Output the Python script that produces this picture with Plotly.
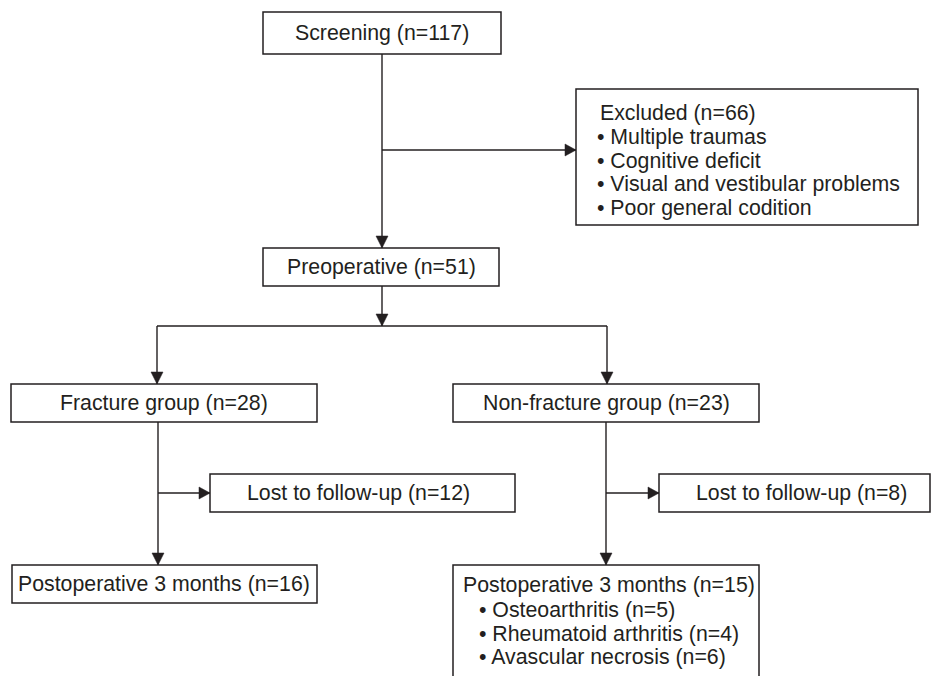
import plotly.graph_objects as go

# ---- data (flowchart content) ----
screening_n = 117
excluded_n = 66
exclusion_reasons = ["Multiple traumas", "Cognitive deficit",
                     "Visual and vestibular problems", "Poor general codition"]
preop_n = 51
group_names = ["Fracture group", "Non-fracture group"]
group_n = [28, 23]
lost_n = [12, 8]
postop_n = [16, 15]
nonfracture_diagnoses = ["Osteoarthritis", "Rheumatoid arthritis", "Avascular necrosis"]
nonfracture_diag_n = [5, 4, 6]

# ---- layout (pixel coordinates) ----
W, H = 942, 676
INK = "#231f20"
FONT = dict(family="Liberation Sans, Arial, Helvetica, sans-serif", size=21.3, color=INK)

fig = go.Figure()
shapes = []
annotations = []

def box(x0, y0, x1, y1):
    shapes.append(dict(type="rect", xref="x", yref="y", x0=x0, y0=y0, x1=x1, y1=y1,
                       line=dict(color=INK, width=1.5), fillcolor="white", layer="above"))

def line(x0, y0, x1, y1):
    shapes.append(dict(type="line", xref="x", yref="y", x0=x0, y0=y0, x1=x1, y1=y1,
                       line=dict(color=INK, width=1.4)))

def head_down(x, y):
    shapes.append(dict(type="path", xref="x", yref="y",
                       path=f"M {x-6},{y-12} L {x+6},{y-12} L {x},{y} Z",
                       fillcolor=INK, line=dict(color=INK, width=0.5)))

def head_right(x, y):
    shapes.append(dict(type="path", xref="x", yref="y",
                       path=f"M {x-11},{y-6} L {x-11},{y+6} L {x},{y} Z",
                       fillcolor=INK, line=dict(color=INK, width=0.5)))

def text(x, y, s, anchor="center"):
    annotations.append(dict(x=x, y=y, xref="x", yref="y", text=s, showarrow=False,
                            xanchor=anchor, yanchor="middle", font=FONT))

# connectors
line(382, 54, 382, 248); head_down(382, 248)
line(382, 150, 576, 150); head_right(576, 150)
line(382, 286, 382, 326); head_down(382, 326)
line(157, 326, 607, 326)
line(157, 326, 157, 384); head_down(157, 384)
line(607, 326, 607, 384); head_down(607, 384)
line(158, 422, 158, 565); head_down(158, 565)
line(158, 493, 210, 493); head_right(210, 493)
line(606, 422, 606, 565); head_down(606, 565)
line(606, 493, 659, 493); head_right(659, 493)

# boxes
box(263, 12, 501, 54)
text(382, 33, f"Screening (n={screening_n})")

box(576, 89, 918, 225)
text(598, 113, f"Excluded (n={excluded_n})", "left")
for i, r in enumerate(exclusion_reasons):
    text(595, 137 + i * 23.5, "• " + r, "left")

box(263, 248, 499, 286)
text(381, 267, f"Preoperative (n={preop_n})")

box(11, 384, 317, 422)
text(164, 403, f"{group_names[0]} (n={group_n[0]})")
box(453, 384, 759, 422)
text(606, 403, f"{group_names[1]} (n={group_n[1]})")

box(210, 474, 515, 512)
text(358, 493, f"Lost to follow-up (n={lost_n[0]})")
box(659, 474, 930, 512)
text(801, 493, f"Lost to follow-up (n={lost_n[1]})")

box(12, 565, 317, 603)
text(164, 584, f"Postoperative 3 months (n={postop_n[0]})")
box(453, 565, 759, 700)
text(461, 585, f"Postoperative 3 months (n={postop_n[1]})", "left")
for i, (d, n) in enumerate(zip(nonfracture_diagnoses, nonfracture_diag_n)):
    text(477, 610 + i * 23.5, f"• {d} (n={n})", "left")

fig.update_layout(
    width=W, height=H,
    margin=dict(l=0, r=0, t=0, b=0),
    paper_bgcolor="white", plot_bgcolor="white",
    xaxis=dict(range=[0, W], visible=False, fixedrange=True),
    yaxis=dict(range=[H, 0], visible=False, fixedrange=True),
    shapes=shapes, annotations=annotations, showlegend=False,
)
fig.write_html("out.html", config={"displayModeBar": False},
               post_script="document.body.style.margin='0';document.body.style.overflow='hidden';")
